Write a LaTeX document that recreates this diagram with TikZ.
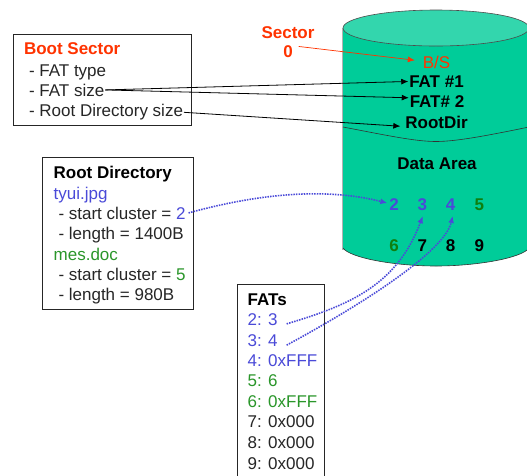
\documentclass[tikz,border=0pt]{standalone}
\usepackage{fontspec}
\setmainfont{Liberation Sans}
\usetikzlibrary{arrows.meta}
\definecolor{cylbody}{HTML}{00CC99}
\definecolor{cyltop}{HTML}{33D6AD}
\definecolor{redt}{HTML}{FF3300}
\definecolor{bluet}{HTML}{4A4AD8}
\definecolor{greent}{HTML}{2A962A}
\definecolor{dgreen}{HTML}{0F7F0F}
\definecolor{dkt}{HTML}{262626}
\newcommand{\lblfont}{\fontsize{17}{20}\selectfont}
\tikzset{
  panel/.style={draw=black!85,line width=0.9pt,fill=white},
  line/.style={anchor=base west,inner sep=0pt,outer sep=1pt,font=\lblfont,text=dkt},
  head/.style={line,font=\lblfont\bfseries},
  disk/.style={anchor=base,inner sep=0pt,outer sep=1pt,font=\lblfont\bfseries,text=black},
  blackarrow/.style={-{Latex[length=7pt,width=6pt]},line width=0.8pt,black},
  redarrow/.style={-{Latex[length=7pt,width=6pt]},line width=0.7pt,redt},
  bluearrow/.style={-{Latex[length=7pt,width=6pt]},line width=1.6pt,bluet,dash pattern=on 1.5pt off 1.1pt},
}
\begin{document}
\begin{tikzpicture}[x=1pt,y=-1pt]
\useasboundingbox (0,0) rectangle (527,475);
% cylinder
\fill[black!30] (341.5,28) -- (341.5,250) -- (345,250) -- (345,28) -- cycle;
\path[fill=cylbody] (343,28) -- (343,248) .. controls (350,258) and (395,266) .. (436,266) .. controls (477,266) and (522,258) .. (529,248) -- (529,28) -- cycle;
\draw[line width=0.6pt,black!80] (343,248) .. controls (350,258) and (395,266) .. (436,266) .. controls (477,266) and (522,258) .. (529,248);
\filldraw[fill=cyltop,draw=black!70,line width=0.6pt] (436,28) ellipse [x radius=93,y radius=18];
\draw[line width=0.6pt,black!80] (343,127) .. controls (385,135) and (415,141.5) .. (436,141.5) .. controls (457,141.5) and (490,135) .. (529,127);
% boxes
\draw[panel] (13,34) rectangle (191,125);
\draw[panel] (42.5,157.5) rectangle (193.5,309);
\draw[panel] (237,284) rectangle (324,480);
% Boot sector
\node[head,text=redt] (bs) at (23,54.3) {Boot Sector};
\node[line] (fattype) at (28,76) {- FAT type};
\node[line] (fatsize) at (28,96) {- FAT size};
\node[line] (rdsize) at (28,116.7) {- Root Directory size};
% Root directory
\node[head,text=black] (rd) at (52.7,178.3) {Root Directory};
\node[line,text=bluet] (tyui) at (52.7,199.5) {tyui.jpg};
\node[line] (sc1) at (57.5,219) {- start cluster = \textcolor{bluet}{2}};
\node[line] (len1) at (57.5,239.3) {- length = 1400B};
\node[line,text=greent] (mes) at (52.7,260) {mes.doc};
\node[line] (sc2) at (57.5,280.7) {- start cluster = \textcolor{greent}{5}};
\node[line] (len2) at (57.5,300.7) {- length = 980B};
% FATs
\node[head,text=black] (fats) at (246.7,305) {FATs};
\node[line,text=bluet] (f2) at (246.7,325.7) {2: 3};
\node[line,text=bluet] (f3) at (246.7,346) {3: 4};
\node[line,text=bluet] (f4) at (246.7,366.7) {4: 0xFFF};
\node[line,text=greent] (f5) at (246.7,386.7) {5: 6};
\node[line,text=greent] (f6) at (246.7,407.3) {6: 0xFFF};
\node[line] (f7) at (246.7,427.7) {7: 0x000};
\node[line] (f8) at (246.7,448.3) {8: 0x000};
\node[line] (f9) at (246.7,469) {9: 0x000};
% sector label
\node[disk,text=redt] (sector) at (288,38.3) {Sector};
\node[disk,text=redt] (zero) at (288,57.3) {0};
% disk labels
\node[disk,text=redt,font=\lblfont] (bsd) at (436.5,68.3) {B/S};
\node[disk] (fat1) at (436.5,87.3) {FAT \#1};
\node[disk] (fat2) at (437,107.7) {FAT\# 2};
\node[disk] (root) at (436.5,128.3) {RootDir};
\node[disk] (data) at (437,169) {Data Area};
\node[disk,text=bluet] (c2) at (394,210) {2};
\node[disk,text=bluet] (c3) at (422.3,210) {3};
\node[disk,text=bluet] (c4) at (450.7,210) {4};
\node[disk,text=dgreen] (c5) at (479.3,210) {5};
\node[disk,text=dgreen] (c6) at (394,251) {6};
\node[disk] (c7) at (422.3,251) {7};
\node[disk] (c8) at (450.7,251) {8};
\node[disk] (c9) at (479.3,251) {9};
% connector ends
\coordinate (redstart) at ([shift={(5,-5)}]zero.east);
\coordinate (redend) at ([shift={(-7,-2)}]bsd.west);
\coordinate (fat1end) at ([yshift=0pt]fat1.west);
\coordinate (fat2end) at ([yshift=4pt]fat2.west);
\coordinate (rootend) at ([shift={(-4,4)}]root.west);
\coordinate (b2s) at ([xshift=2pt]sc1.east);
\coordinate (b2e) at ([shift={(-1,-1)}]c2.west);
\coordinate (b3s) at ([shift={(8,4)}]f2.east);
\coordinate (b3e) at ([shift={(0.4,5)}]c3.south);
\coordinate (b4s) at ([shift={(8,5)}]f3.east);
\coordinate (b4e) at ([shift={(2,5)}]c4.south);
% connectors
\draw[redarrow] (redstart) -- (redend);
\draw[blackarrow] (fatsize.east) -- (fat1end);
\draw[blackarrow] (fatsize.east) -- (fat2end);
\draw[blackarrow] (rdsize.east) -- (rootend);
\draw[bluearrow] (b2s) .. controls (250,196) and (320,186) .. (b2e);
\draw[bluearrow] (b3s) .. controls (350,305) and (397,285) .. (b3e);
\draw[bluearrow] (b4s) .. controls (370,300) and (445,250) .. (b4e);
\end{tikzpicture}
\end{document}
